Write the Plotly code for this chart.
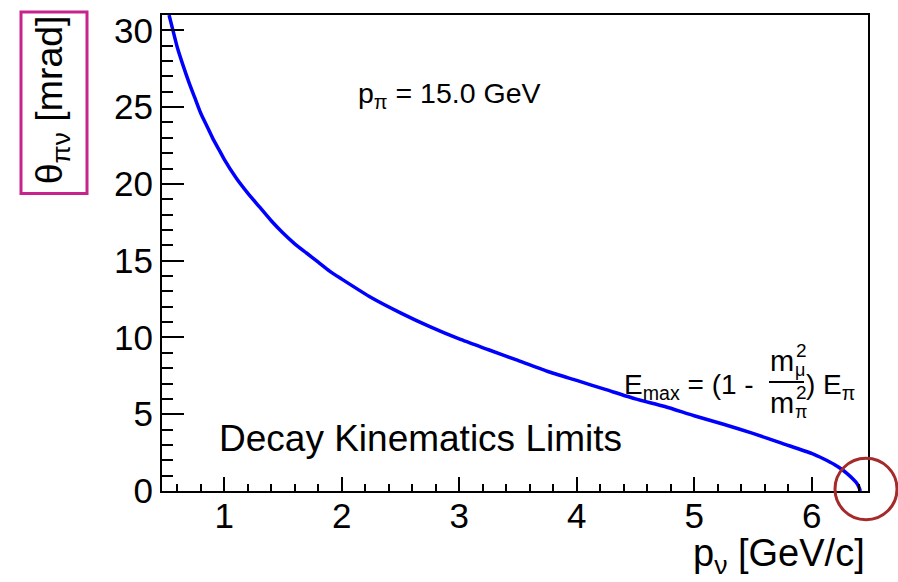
import plotly.graph_objects as go

# ---- data ----
p_nu = [0.53, 0.56, 0.6, 0.65, 0.7, 0.75, 0.8, 0.85, 0.9, 0.95, 1.0, 1.1, 1.2,
        1.3, 1.4, 1.5, 1.6, 1.7, 1.8, 1.9, 2.0, 2.25, 2.5, 2.75,
        3.0, 3.25, 3.5, 3.75, 4.0, 4.25, 4.5, 4.75, 5.0, 5.25, 5.5, 5.75, 6.0,
        6.1, 6.2, 6.25, 6.3, 6.35, 6.38, 6.4, 6.415]
theta_mrad = [31.0, 30.1, 28.9, 27.7, 26.6, 25.6, 24.6, 23.8, 23.0, 22.3, 21.6,
              20.4, 19.4, 18.5, 17.6, 16.8, 16.1, 15.5, 14.9, 14.3, 13.8,
              12.6, 11.6, 10.7, 9.9, 9.2, 8.5, 7.8, 7.2, 6.6, 6.0, 5.5, 4.9,
              4.35, 3.75, 3.1, 2.45, 2.1, 1.7, 1.45, 1.15, 0.8, 0.55, 0.3, 0.0]
x_ticks = [1, 2, 3, 4, 5, 6]
y_ticks = [0, 5, 10, 15, 20, 25, 30]

W, H = 898, 582
L, R, T, B = 162, 868, 11, 491
FONT = "Liberation Sans, Arial, Helvetica, sans-serif"


def px(x):
    return (x - L) / (R - L)


def py(y):
    return (B - y) / (B - T)


fig = go.Figure()
fig.add_trace(go.Scatter(x=p_nu, y=theta_mrad, mode="lines",
                         line=dict(color="#0000ff", width=3.5, shape="spline",
                                   smoothing=0.6),
                         showlegend=False, hoverinfo="x+y"))

axis_common = dict(showgrid=False, zeroline=False, showline=True, linecolor="black",
                   linewidth=2, mirror=True, ticks="inside", tickcolor="black",
                   tickwidth=2, tickfont=dict(family=FONT, size=35, color="black"))

fig.update_xaxes(range=[0.47, 6.48], tickvals=x_ticks, ticklen=14,
                 minor=dict(ticks="inside", ticklen=7, dtick=0.2, tick0=0,
                            tickcolor="black", tickwidth=2),
                 ticklabelstandoff=-7, **axis_common)
fig.update_yaxes(range=[0, 31], tickvals=y_ticks, ticklen=22,
                 minor=dict(ticks="inside", ticklen=11, dtick=1, tick0=0,
                            tickcolor="black", tickwidth=2),
                 ticklabelstandoff=0, **axis_common)

ann = []


def text(s, x, y, size, xanchor="left", yanchor="middle", angle=0):
    ann.append(dict(text=s, x=px(x), y=py(y), xref="paper", yref="paper",
                    xanchor=xanchor, yanchor=yanchor, showarrow=False,
                    textangle=angle, font=dict(family=FONT, size=size, color="black")))


# texts
text("p<sub>π</sub> = 15.0 GeV", 356, 92, 28.5)
text("Decay Kinematics Limits", 217, 438, 37)
# E_max formula
text("E<sub>max</sub> = (1 - ", 622, 386, 28)
text("m", 768, 360, 29)
text("m", 768, 402, 29)
text("2", 794, 349, 19)
text("μ", 793, 369, 18)
text("2", 794, 392, 19)
text("π", 793, 411, 18)
text(") E<sub>π</sub>", 804, 386, 28)
# axis titles
text("p<sub>ν</sub> [GeV/c]", 867, 557, 38, xanchor="right")
text("θ<sub>πν</sub> [mrad]", 52, 97, 37.5, xanchor="center", angle=-90)

shapes = [
    # fraction bar
    dict(type="line", xref="paper", yref="paper", x0=px(769), x1=px(804),
         y0=py(381), y1=py(381), line=dict(color="black", width=2)),
    # box around y title
    dict(type="rect", xref="paper", yref="paper", x0=px(21), x1=px(87),
         y0=py(191), y1=py(8), line=dict(color="#c8238c", width=3)),
    # circle at the end point
    dict(type="circle", xref="paper", yref="paper", x0=px(835), x1=px(897),
         y0=py(520), y1=py(458), line=dict(color="#a52a2a", width=3)),
]

fig.update_layout(width=W, height=H, margin=dict(l=L, r=W - R, t=T, b=H - B),
                  paper_bgcolor="white", plot_bgcolor="white",
                  annotations=ann, shapes=shapes,
                  font=dict(family=FONT, color="black"))

fig.write_html("out.html")
